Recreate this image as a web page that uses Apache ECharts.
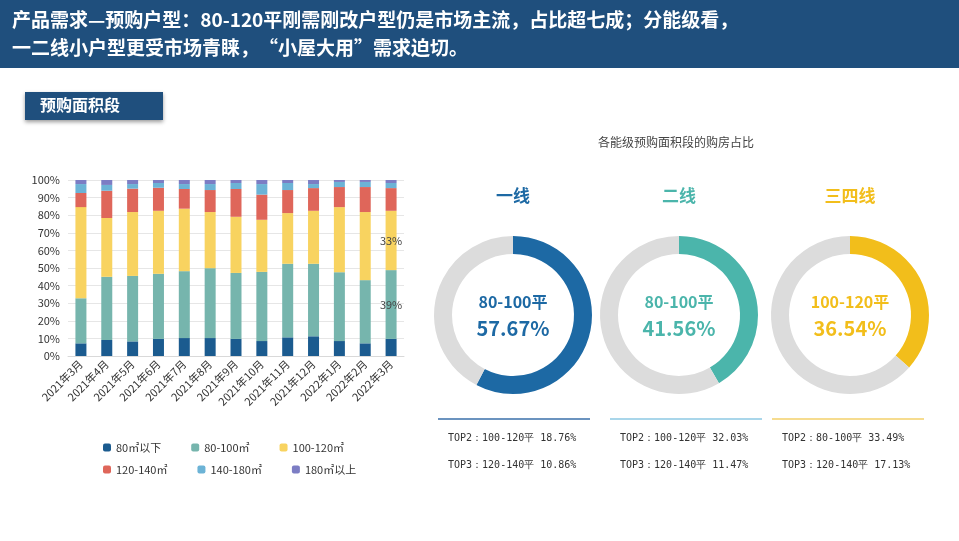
<!DOCTYPE html>
<html><head><meta charset="utf-8">
<script src="https://cdn.jsdelivr.net/npm/echarts@6/dist/echarts.min.js"></script>
<style>html,body{margin:0;padding:0;background:#fff}#c{width:959px;height:541px}</style>
</head><body><div id="c"></div>
<script>
const months=['2021年3月','2021年4月','2021年5月','2021年6月','2021年7月','2021年8月','2021年9月','2021年10月','2021年11月','2021年12月','2022年1月','2022年2月','2022年3月'];
const s80=[7.2,9.1,8.3,9.7,10.2,10.2,9.7,8.5,10.6,11.2,8.5,7.2,9.7];
const s80100=[25.6,35.9,37.2,37.0,38.0,39.7,37.5,39.3,41.8,41.2,39.1,35.9,39.1];
const s100120=[51.8,33.4,36.3,35.8,35.5,31.9,31.9,29.6,28.8,30.1,37.0,38.7,33.7];
const s120140=[8.0,15.5,13.3,13.1,11.2,12.5,15.8,14.3,13.1,12.9,11.4,14.2,12.9];
const s140180=[5.1,3.3,2.6,2.7,2.8,3.4,3.4,6.0,4.0,2.3,2.9,2.9,2.9];
const s180=[2.3,2.8,2.3,1.7,2.3,2.3,1.7,2.3,1.7,2.3,1.1,1.1,1.7];
const legendNames=['80㎡以下','80-100㎡','100-120㎡','120-140㎡','140-180㎡','180㎡以上'];
const tiers=['一线','二线','三四线'];
const mainSeg=['80-100平','80-100平','100-120平'];
const mainVal=[57.67,41.56,36.54];
const top2=['TOP2：100-120平 18.76%','TOP2：100-120平 32.03%','TOP2：80-100平 33.49%'];
const top3=['TOP3：120-140平 10.86%','TOP3：120-140平 11.47%','TOP3：120-140平 17.13%'];
const barColors=['#1b5b8f','#76b5ad','#f8d360','#df665a','#6cb3d6','#7c7dc4'];
const ringColors=['#1d69a4','#4bb5ab','#f2be1b'];
const cx=[513,679,850];
const F='"Noto Sans CJK SC","Noto Sans",sans-serif';
const chart=echarts.init(document.getElementById('c'));
const stacks=[s80,s80100,s100120,s120140,s140180,s180];
const series=stacks.map((d,i)=>({name:legendNames[i],type:'bar',stack:'a',barWidth:11,data:d,itemStyle:{color:barColors[i]},
 label:(i===1||i===2)?{show:true,position:'inside',fontSize:11,color:'#444',
 formatter:p=>p.dataIndex===12?(i===1?'39%':'33%'):''}:{show:false}}));
tiers.forEach((t,i)=>{
 series.push({type:'pie',radius:[61,79],center:[cx[i],315],startAngle:90,clockwise:true,silent:true,
  label:{show:false},labelLine:{show:false},
  data:[{value:mainVal[i],itemStyle:{color:ringColors[i]}},{value:100-mainVal[i],itemStyle:{color:'#dcdcdc'}}]});
});
const g=[
 {type:'rect',shape:{x:0,y:0,width:959,height:68},style:{fill:'#1f4f7d'}},
 {type:'text',left:12,top:6,style:{text:'产品需求—预购户型：80-120平刚需刚改户型仍是市场主流，占比超七成；分能级看，\n一二线小户型更受市场青睐，“小屋大用”需求迫切。',fill:'#fff',font:'bold 19px '+F,lineHeight:28}},
 {type:'rect',shape:{x:25,y:92,width:138,height:28},style:{fill:'#1f4f7d',shadowBlur:4,shadowColor:'rgba(0,0,0,0.4)',shadowOffsetY:2}},
 {type:'text',left:40,top:97,style:{text:'预购面积段',fill:'#fff',font:'bold 16px '+F}},
 {type:'text',left:598,top:136,style:{text:'各能级预购面积段的购房占比',fill:'#444',font:'12px '+F}}
];
tiers.forEach((t,i)=>{
 g.push({type:'text',x:cx[i],y:196,style:{text:t,fill:ringColors[i],font:'bold 17px '+F,align:'center',verticalAlign:'middle'}});
 g.push({type:'text',x:cx[i],y:302,style:{text:mainSeg[i],fill:ringColors[i],font:'bold 16px '+F,align:'center',verticalAlign:'middle'}});
 g.push({type:'text',x:cx[i],y:328,style:{text:mainVal[i].toFixed(2)+'%',fill:ringColors[i],font:'bold 20px '+F,align:'center',verticalAlign:'middle'}});
 const x0=[438,610,772][i];
 g.push({type:'line',shape:{x1:x0,y1:419,x2:x0+152,y2:419},style:{stroke:['#6b93bf','#a9d6ea','#f6dc8f'][i],lineWidth:2}});
 g.push({type:'text',left:x0+10,top:433,style:{text:top2[i],fill:'#333',font:'10px "DejaVu Sans Mono",monospace'}});
 g.push({type:'text',left:x0+10,top:460,style:{text:top3[i],fill:'#333',font:'10px "DejaVu Sans Mono",monospace'}});
});
const lg={itemWidth:8,itemHeight:8,itemGap:30,textStyle:{fontSize:11,color:'#333'}};
chart.setOption({
 animation:false,
 textStyle:{fontFamily:F},
 graphic:g,
 legend:[Object.assign({data:legendNames.slice(0,3),left:98,top:437},lg),
         Object.assign({data:legendNames.slice(3),left:98,top:459},lg)],
 grid:{left:68,right:555,top:180,bottom:185},
 xAxis:{type:'category',data:months,axisTick:{show:false},axisLine:{lineStyle:{color:'#d9d9d9'}},
  axisLabel:{rotate:45,fontSize:11,color:'#333',interval:0,margin:6}},
 yAxis:{type:'value',min:0,max:100,interval:10,axisLabel:{formatter:'{value}%',fontSize:11,color:'#333'},
  splitLine:{lineStyle:{color:'#e6e6e6'}}},
 series:series
});
</script></body></html>
